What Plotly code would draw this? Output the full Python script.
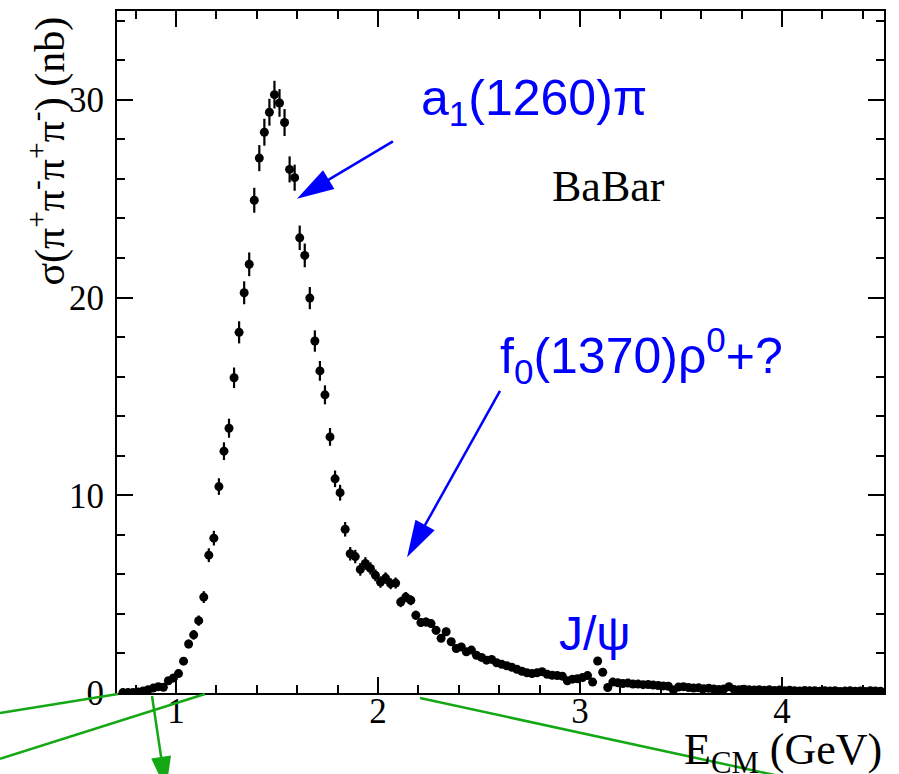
import numpy as np
import plotly.graph_objects as go

# e+e- -> pi+ pi- pi+ pi- cross section, 25 MeV bins
BIN_WIDTH = 0.025
FIRST_BIN_LOW = 0.725
sigma_nb = [
    0.02, 0.02, 0.03, 0.05, 0.10, 0.17, 0.25, 0.32, 0.29, 0.62,
    0.76, 0.98, 1.61, 2.48, 2.94, 3.66, 4.85, 6.97, 7.83, 10.44,
    12.23, 13.39, 15.94, 18.24, 20.24, 21.68, 24.92, 27.05, 28.36, 29.37,
    30.26, 29.84, 28.85, 26.48, 26.06, 23.02, 22.13, 19.97, 17.80, 16.29,
    15.08, 12.95, 10.83, 10.13, 8.28, 7.04, 6.90, 6.25, 6.55, 6.30,
    5.95, 5.61, 5.81, 5.53, 5.56, 4.60, 4.85, 4.69, 3.93, 3.56,
    3.59, 3.51, 3.17, 2.77, 3.10, 2.59, 2.25, 2.33, 2.08, 2.17,
    1.91, 1.80, 1.66, 1.70, 1.53, 1.45, 1.38, 1.30, 1.20, 1.10,
    1.02, 0.98, 1.02, 1.08, 0.95, 0.90, 0.88, 0.85, 0.62, 0.70,
    0.72, 0.78, 0.88, 0.55, 1.62, 1.05, 0.28, 0.55, 0.52, 0.48,
    0.50, 0.45, 0.45, 0.42, 0.43, 0.40, 0.38, 0.36, 0.34, 0.15,
    0.30, 0.32, 0.28, 0.25, 0.26, 0.22, 0.24, 0.20, 0.18, 0.20,
    0.32, 0.18, 0.17, 0.19, 0.16, 0.15, 0.17, 0.14, 0.16, 0.13,
    0.15, 0.12, 0.14, 0.12, 0.10, 0.13, 0.11, 0.12, 0.09, 0.11,
    0.10, 0.12, 0.08, 0.10, 0.11, 0.09, 0.10, 0.08, 0.12, 0.10,
    0.09,
]
sigma_err = [
    0.02, 0.02, 0.03, 0.04, 0.05, 0.06, 0.08, 0.09, 0.09, 0.12,
    0.13, 0.15, 0.18, 0.22, 0.24, 0.26, 0.30, 0.35, 0.37, 0.42,
    0.45, 0.48, 0.52, 0.56, 0.58, 0.60, 0.63, 0.66, 0.68, 0.68,
    0.70, 0.70, 0.68, 0.66, 0.66, 0.62, 0.60, 0.56, 0.54, 0.50,
    0.48, 0.45, 0.42, 0.40, 0.37, 0.34, 0.34, 0.32, 0.32, 0.31,
    0.30, 0.29, 0.29, 0.28, 0.28, 0.26, 0.26, 0.25, 0.23, 0.22,
    0.22, 0.22, 0.21, 0.20, 0.20, 0.19, 0.18, 0.18, 0.17, 0.17,
    0.16, 0.16, 0.15, 0.15, 0.15, 0.14, 0.14, 0.14, 0.13, 0.13,
    0.12, 0.12, 0.12, 0.12, 0.12, 0.11, 0.11, 0.11, 0.10, 0.10,
    0.10, 0.10, 0.11, 0.10, 0.16, 0.13, 0.08, 0.09, 0.09, 0.09,
    0.09, 0.08, 0.08, 0.08, 0.08, 0.08, 0.08, 0.07, 0.07, 0.06,
    0.07, 0.07, 0.07, 0.06, 0.06, 0.06, 0.06, 0.06, 0.06, 0.06,
    0.07, 0.06, 0.05, 0.05, 0.05, 0.05, 0.05, 0.05, 0.05, 0.05,
    0.05, 0.05, 0.05, 0.05, 0.04, 0.05, 0.04, 0.04, 0.04, 0.04,
    0.04, 0.04, 0.04, 0.04, 0.04, 0.04, 0.04, 0.04, 0.04, 0.04,
    0.04,
]
energy_gev = FIRST_BIN_LOW + BIN_WIDTH * (np.arange(len(sigma_nb)) + 0.5)

x_ticks = [1, 2, 3, 4]
y_ticks = [0, 10, 20, 30]
X_RANGE = [0.708, 4.505]
Y_RANGE = [0.0, 34.49]

W, H = 899, 774
M_L, M_R, M_T, M_B = 117, 15, 9, 81
PLOT_W = W - M_L - M_R
PLOT_H = H - M_T - M_B
PX_PER_X = PLOT_W / (X_RANGE[1] - X_RANGE[0])
PX_PER_Y = PLOT_H / (Y_RANGE[1] - Y_RANGE[0])

BLUE = "#0000ff"
GREEN = "#14a814"
SERIF = "Liberation Serif, Times New Roman, serif"
SANS = "Liberation Sans, Arial, sans-serif"

fig = go.Figure()
fig.add_trace(go.Scatter(
    x=energy_gev, y=sigma_nb, mode="markers",
    marker=dict(color="black", size=9, line=dict(width=0)),
    error_y=dict(type="data", array=sigma_err, thickness=2.2, width=0, color="black"),
    showlegend=False,
))

shapes = []


def head_path(ux, uy, length, width):
    # triangle with its tip at the anchor, pointing along (ux, uy) in pixels (y up)
    nx, ny = -uy, ux
    bx, by = -length * ux, -length * uy
    p1 = (bx + width / 2 * nx, by + width / 2 * ny)
    p2 = (bx - width / 2 * nx, by - width / 2 * ny)
    return f"M0,0 L{p1[0]:.2f},{p1[1]:.2f} L{p2[0]:.2f},{p2[1]:.2f} Z"


def data_arrow(tail, tip, color, length=37, width=22, lw=2.5):
    dx = (tip[0] - tail[0]) * PX_PER_X
    dy = (tip[1] - tail[1]) * PX_PER_Y
    n = (dx * dx + dy * dy) ** 0.5
    ux, uy = dx / n, dy / n
    end_x = tip[0] - 0.5 * length * ux / PX_PER_X
    end_y = tip[1] - 0.5 * length * uy / PX_PER_Y
    shapes.append(dict(type="line", xref="x", yref="y", x0=tail[0], y0=tail[1],
                       x1=end_x, y1=end_y, line=dict(color=color, width=lw)))
    shapes.append(dict(type="path", xref="x", yref="y", xsizemode="pixel", ysizemode="pixel",
                       xanchor=tip[0], yanchor=tip[1], path=head_path(ux, uy, length, width),
                       fillcolor=color, line=dict(width=0)))


def to_paper(px, py):
    return (px - M_L) / PLOT_W, (H - M_B - py) / PLOT_H


def paper_line(p0, p1, color, lw=2.5):
    a = to_paper(*p0)
    b = to_paper(*p1)
    shapes.append(dict(type="line", xref="paper", yref="paper", x0=a[0], y0=a[1],
                       x1=b[0], y1=b[1], line=dict(color=color, width=lw)))


def paper_arrow(p0, p1, color, length=33, width=20, lw=2.5):
    dx, dy = p1[0] - p0[0], -(p1[1] - p0[1])
    n = (dx * dx + dy * dy) ** 0.5
    ux, uy = dx / n, dy / n
    end = (p1[0] - 0.6 * length * ux, p1[1] + 0.6 * length * uy)
    paper_line(p0, end, color, lw)
    t = to_paper(*p1)
    shapes.append(dict(type="path", xref="paper", yref="paper", xsizemode="pixel", ysizemode="pixel",
                       xanchor=t[0], yanchor=t[1], path=head_path(ux, uy, length, width),
                       fillcolor=color, line=dict(width=0)))


# resonance pointers
data_arrow((2.074, 27.9), (1.599, 25.0), BLUE)
data_arrow((2.604, 15.28), (2.144, 6.86), BLUE)

# green overlay strokes at the bottom edge
paper_line((0, 713), (118, 694), GREEN)
paper_line((0, 759), (205, 694), GREEN)
paper_line((420, 698), (778, 776), GREEN)
paper_arrow((152, 696), (166, 790), GREEN)

annotations = [
    dict(text="a<sub>1</sub>(1260)π", x=2.205, y=29.9, xref="x", yref="y",
         xanchor="left", yanchor="middle", showarrow=False,
         font=dict(family=SANS, size=50, color=BLUE)),
    dict(text="BaBar", x=2.851, y=25.6, xref="x", yref="y",
         xanchor="left", yanchor="middle", showarrow=False,
         font=dict(family=SERIF, size=44, color="black")),
    dict(text="f<sub>0</sub>(1370)ρ<sup>0</sup>+?", x=2.594, y=17.05, xref="x", yref="y",
         xanchor="left", yanchor="middle", showarrow=False,
         font=dict(family=SANS, size=50, color=BLUE)),
    dict(text="J/ψ", x=2.886, y=3.0, xref="x", yref="y",
         xanchor="left", yanchor="middle", showarrow=False,
         font=dict(family=SANS, size=48, color=BLUE)),
    dict(text="σ(π<sup>+</sup>π<sup>-</sup>π<sup>+</sup>π<sup>-</sup>) (nb)",
         x=to_paper(47, 0)[0], y=to_paper(0, 150)[1], xref="paper", yref="paper",
         xanchor="center", yanchor="middle", textangle=-90, showarrow=False,
         font=dict(family=SERIF, size=42, color="black")),
    dict(text="E<sub>CM</sub> (GeV)", x=1.0, y=to_paper(0, 753)[1], xref="paper", yref="paper",
         xanchor="right", yanchor="middle", showarrow=False,
         font=dict(family=SERIF, size=44, color="black")),
]

axis_common = dict(
    showline=True, linecolor="black", linewidth=2, mirror="allticks",
    ticks="inside", ticklen=16, tickwidth=2, tickcolor="black",
    showgrid=False, zeroline=False,
    tickfont=dict(family=SERIF, size=35, color="black"),
)

fig.update_layout(
    width=W, height=H,
    margin=dict(l=M_L, r=M_R, t=M_T, b=M_B),
    paper_bgcolor="white", plot_bgcolor="white",
    xaxis=dict(range=X_RANGE, tickvals=x_ticks, ticklabelstandoff=-14,
               minor=dict(ticks="inside", ticklen=8, tickwidth=2, tickcolor="black", dtick=0.2, tick0=0),
               **axis_common),
    yaxis=dict(range=Y_RANGE, tickvals=y_ticks, ticklabelstandoff=4,
               minor=dict(ticks="inside", ticklen=8, tickwidth=2, tickcolor="black", dtick=2, tick0=0),
               **axis_common),
    shapes=shapes,
    annotations=annotations,
)

fig.write_html("out.html")
